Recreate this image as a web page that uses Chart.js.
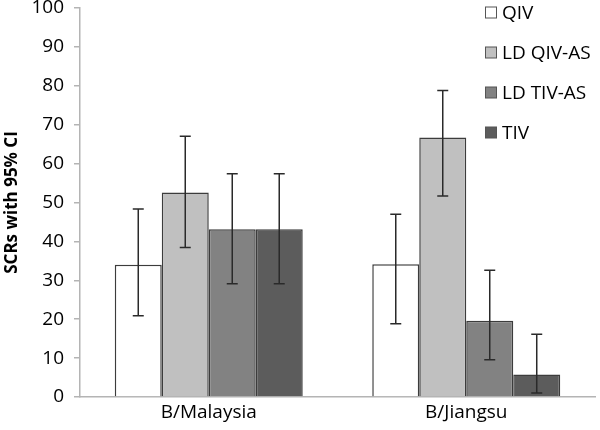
<!DOCTYPE html>
<html><head><meta charset="utf-8">
<script src="https://cdn.jsdelivr.net/npm/chart.js@4"></script>
<style>html,body{margin:0;padding:0;background:#fff}#wrap{width:600px;height:430px}</style>
</head><body><div id="wrap"><canvas id="c" width="600" height="430"></canvas></div>
<script>
const categories = ["B/Malaysia", "B/Jiangsu"];
const seriesNames = ["QIV", "LD QIV-AS", "LD TIV-AS", "TIV"];
const qiv      = [34.0, 34.1];
const ldQivAs  = [52.6, 66.7];
const ldTivAs  = [43.1, 19.6];
const tiv      = [43.1, 5.8];
const qivLow   = [20.9, 18.8];
const qivHigh  = [48.3, 47.0];
const ldQivLow = [38.4, 51.7];
const ldQivHigh= [67.0, 78.8];
const ldTivLow = [29.1, 9.6];
const ldTivHigh= [57.4, 32.6];
const tivLow   = [29.1, 1.0];
const tivHigh  = [57.4, 16.1];
const yTicks = [0,10,20,30,40,50,60,70,80,90,100];

const values = [qiv, ldQivAs, ldTivAs, tiv];
const lows = [qivLow, ldQivLow, ldTivLow, tivLow];
const highs = [qivHigh, ldQivHigh, ldTivHigh, tivHigh];
const fills = ["#ffffff", "#c0c0c0", "#828282", "#5c5c5c"];
const FONT = "'Open Sans', sans-serif";

const errorBars = {
  id: 'errorBars',
  afterDatasetsDraw(chart) {
    const ctx = chart.ctx, y = chart.scales.y;
    ctx.save();
    ctx.strokeStyle = '#2a2a2a';
    ctx.lineWidth = 1.5;
    chart.data.datasets.forEach((ds, i) => {
      const meta = chart.getDatasetMeta(i);
      meta.data.forEach((bar, j) => {
        const x = bar.x;
        const yl = y.getPixelForValue(lows[i][j]);
        const yh = y.getPixelForValue(highs[i][j]);
        ctx.beginPath();
        ctx.moveTo(x, yl); ctx.lineTo(x, yh);
        ctx.moveTo(x - 5.5, yl); ctx.lineTo(x + 5.5, yl);
        ctx.moveTo(x - 5.5, yh); ctx.lineTo(x + 5.5, yh);
        ctx.stroke();
      });
    });
    ctx.restore();
  }
};

const customLegend = {
  id: 'customLegend',
  afterDraw(chart) {
    const ctx = chart.ctx;
    ctx.save();
    ctx.font = "19px " + FONT;
    ctx.textBaseline = 'middle';
    ctx.textAlign = 'left';
    chart.data.datasets.forEach((ds, i) => {
      const cy = 13 + i * 40;
      ctx.fillStyle = ds.backgroundColor;
      ctx.fillRect(485.5, cy - 6, 11, 11);
      ctx.strokeStyle = '#555';
      ctx.lineWidth = 1;
      ctx.strokeRect(485.5, cy - 6, 11, 11);
      ctx.fillStyle = '#000';
      ctx.fillText(ds.label, 502, cy + 1);
    });
    ctx.restore();
  }
};

new Chart(document.getElementById('c'), {
  type: 'bar',
  data: {
    labels: categories,
    datasets: seriesNames.map((n, i) => ({
      label: n,
      data: values[i],
      backgroundColor: fills[i],
      borderColor: '#3c3c3c',
      borderWidth: 1.5,
      categoryPercentage: 0.73,
      barPercentage: 1.0
    }))
  },
  options: {
    responsive: false,
    animation: false,
    layout: { padding: { top: 8, right: 5, left: 0, bottom: 0 } },
    plugins: { legend: { display: false }, tooltip: { enabled: false } },
    scales: {
      x: {
        grid: { display: false, drawTicks: false },
        border: { color: '#b4b4b4', width: 1.5 },
        ticks: { color: '#000', font: { family: FONT, size: 19 }, padding: 4 },
        afterFit(s) { s.height = 33; }
      },
      y: {
        min: 0, max: 100,
        afterBuildTicks(s) { s.ticks = yTicks.map(v => ({ value: v })); },
        grid: { display: true, drawOnChartArea: false, drawTicks: true, tickLength: 6, color: '#b4b4b4', lineWidth: 1.5 },
        border: { color: '#b4b4b4', width: 1.5 },
        ticks: { color: '#000', font: { family: FONT, size: 19 }, padding: 10 },
        title: { display: true, text: 'SCRs with 95% CI', color: '#000', font: { family: FONT, size: 17, weight: 'bold' }, padding: { top: 2, bottom: 4 } },
        afterFit(s) { s.width = 80; s.paddingTop = 0; s.paddingBottom = 0; }
      }
    }
  },
  plugins: [errorBars, customLegend]
});
</script></body></html>
